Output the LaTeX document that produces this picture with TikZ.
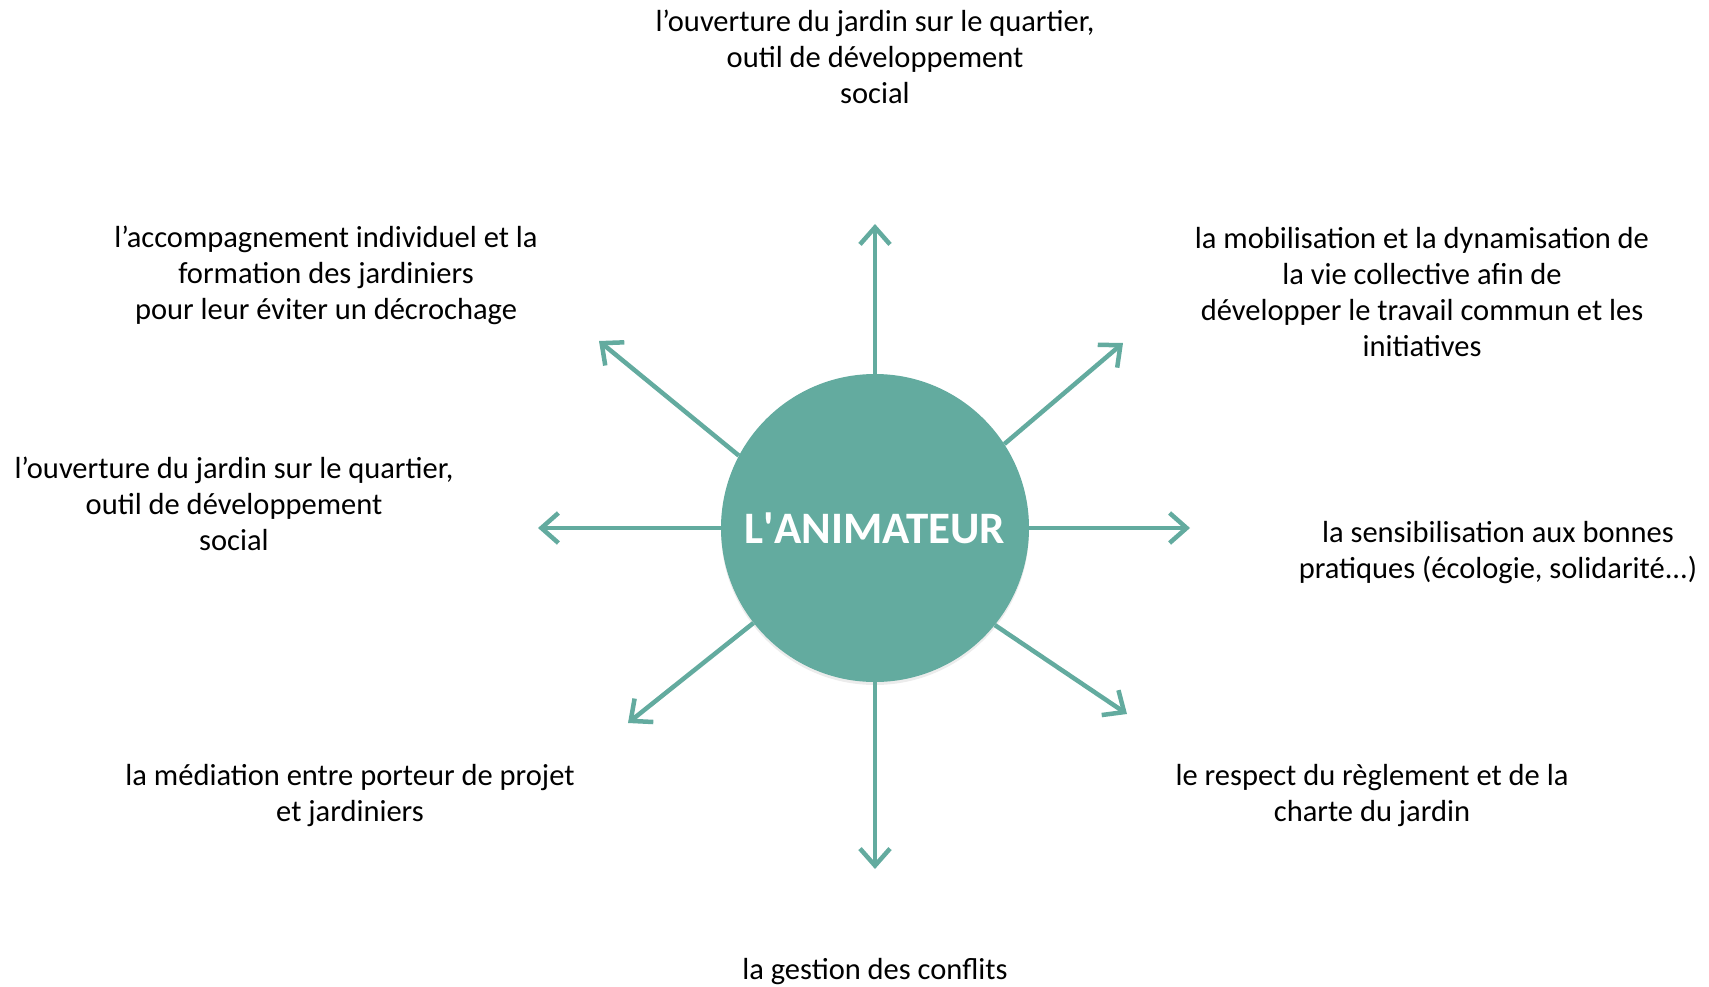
\documentclass[tikz,border=0pt]{standalone}
\usepackage{fontspec}
\setmainfont{Carlito}
\usetikzlibrary{arrows.meta,shadows}
\definecolor{teal1}{RGB}{99,171,159}
\begin{document}
\begin{tikzpicture}[x=1pt,y=-1pt,
  lbl/.style={align=center,inner sep=0pt,text=black,font=\fontsize{30.5}{36}\selectfont},
  arr/.style={draw=teal1,line width=4.5pt,-{Straight Barb[length=17pt,width=30pt,line width=4.5pt]}},
  hub/.style={circle,fill=teal1,minimum size=308pt,inner sep=0pt,text=white,
    font=\fontsize{45}{52}\selectfont\bfseries,
    drop shadow={shadow xshift=0pt,shadow yshift=-3pt,opacity=0.15}}]
\useasboundingbox (0,0) rectangle (1709,987);
\node[hub] (c) at (875,528) {L\textquotesingle ANIMATEUR};

\coordinate (tN) at (875,224);
\coordinate (tS) at (875,869);
\coordinate (tE) at (1190,528);
\coordinate (tW) at (538,528);
\coordinate (tNE) at (1123,343);
\coordinate (tNW) at (599,341);
\coordinate (tSE) at (1127,714);
\coordinate (tSW) at (628,723);

\draw[arr] (c.90) -- (tN);
\draw[arr] (c.270) -- (tS);
\draw[arr] (c.0) -- (tE);
\draw[arr] (c.180) -- (tW);
\draw[arr] (c.33) -- (tNE);
\draw[arr] (c.152) -- (tNW);
\draw[arr] (c.-39.5) -- (tSE);
\draw[arr] (c.218) -- (tSW);

\node[lbl] (lN) at (875,57) {l’ouverture du jardin sur le quartier,\\outil de développement\\social};
\node[lbl] (lNW) at (326,275) {l’accompagnement individuel et la\\formation des jardiniers\\pour leur éviter un décrochage};
\node[lbl] (lNE) at (1422,292) {la mobilisation et la dynamisation de\\la vie collective afin de\\développer le travail commun et les\\initiatives};
\node[lbl] (lW) at (234,504) {l’ouverture du jardin sur le quartier,\\outil de développement\\social};
\node[lbl] (lE) at (1498,553) {la sensibilisation aux bonnes\\pratiques (écologie, solidarité...)};
\node[lbl] (lSW) at (350,796) {la médiation entre porteur de projet\\et jardiniers};
\node[lbl] (lSE) at (1372,796) {le respect du règlement et de la\\charte du jardin};
\node[lbl] (lS) at (875,972) {la gestion des conflits};
\end{tikzpicture}
\end{document}
